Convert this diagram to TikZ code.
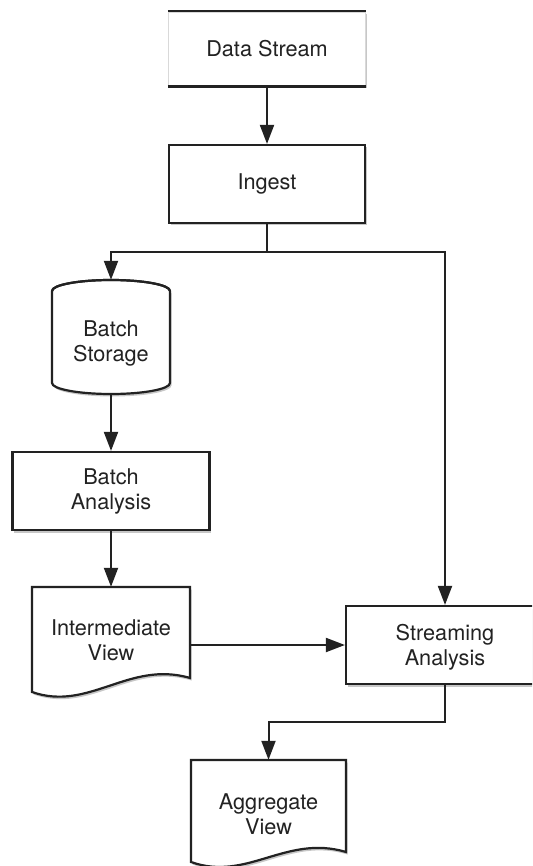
\documentclass[tikz,border=0pt]{standalone}
\usepackage{fontspec}
\setmainfont{TeX Gyre Heros}
\usetikzlibrary{arrows.meta,shadows,calc}
\definecolor{ink}{HTML}{222222}
\begin{document}
\begin{tikzpicture}[x=1pt,y=-1pt,
  txt/.style={font=\fontsize{21.7}{25}\selectfont, text=ink, align=center, inner sep=0pt},
  shade box/.style={drop shadow={shadow xshift=1.5pt, shadow yshift=-2.5pt, opacity=.22, fill=black}},
  procbox/.style={draw=ink, line width=2.2pt, fill=white, shade box, rectangle,
    minimum width=#1, minimum height=78pt, inner sep=0pt},
  area/.style={rectangle, inner sep=0pt, draw=none},
  shapeline/.style={draw=ink, line width=2.2pt, fill=white, shade box, line join=miter},
  conn/.style={draw=ink, line width=2pt, -{Triangle[length=19pt,width=14pt]}},
  plain/.style={draw=ink, line width=2pt}
]
\useasboundingbox (0,0) rectangle (532,866);
\clip (0,0) rectangle (532,866);
\fill[white] (0,0) rectangle (532,866);

% source box: faint sides, strong top and bottom rules
\node[area, minimum width=197pt, minimum height=74pt, fill=white, shade box,
      draw=gray!30, line width=1.2pt] (ds) at (267,49) {};
\draw[ink, line width=2.2pt] (ds.north west) -- (ds.north east);
\draw[ink, line width=2.2pt] (ds.south west) -- (ds.south east);
\node[txt] (dslabel) at (ds.center) {Data Stream};

\node[procbox=196pt] (ingest) at (267,184) {};
\node[txt] (ingestlabel) at (ingest.center) {Ingest};

% batch storage cylinder
\node[area, minimum width=118pt, minimum height=114pt] (store) at (111,337) {};
\path[shapeline] (52,291) -- (52,383) arc[start angle=180, end angle=360, x radius=59, y radius=-11]
  -- (170,291) arc[start angle=0, end angle=180, x radius=59, y radius=-11] -- cycle;
\draw[ink, line width=2.2pt] (52,291) arc[start angle=180, end angle=360, x radius=59, y radius=11];
\node[txt] (storelabel) at (111,343) {Batch\\Storage};

\node[procbox=197pt] (ba) at (111,491) {};
\node[txt] (balabel) at (ba.center) {Batch\\Analysis};

% intermediate view document
\node[area, minimum width=158pt, minimum height=106pt] (iv) at (111,640) {};
\path[shapeline] (32,587) -- (190,587) -- (190,678)
  .. controls (129,660) and (89,712) .. (32,692) -- cycle;
\node[txt] (ivlabel) at (111,640) {Intermediate\\View};

\node[procbox=198pt] (sa) at (445,645) {};
\node[txt] (salabel) at (445,647) {Streaming\\Analysis};

% aggregate view document
\node[area, minimum width=155pt, minimum height=110pt] (av) at (268.5,815) {};
\path[shapeline] (191,760) -- (346,760) -- (346,852)
  .. controls (286,834) and (247,882) .. (191,862) -- cycle;
\node[txt] (avlabel) at (268.5,814) {Aggregate\\View};

% connectors
\coordinate (split) at (267,252);
\coordinate (join) at (445,722);
\draw[conn] (ds) -- (ingest);
\draw[plain] (ingest.south) -- (split);
\draw[conn] (split) -| (store.north);
\draw[conn] (split) -| (sa.north);
\draw[conn] (store.south) -- (ba.north);
\draw[conn] (ba.south) -- (iv.north);
\draw[conn] (iv.east |- sa.west) -- (sa.west);
\draw[conn] (sa.south) -- (join) -| (av.north);
\end{tikzpicture}
\end{document}
